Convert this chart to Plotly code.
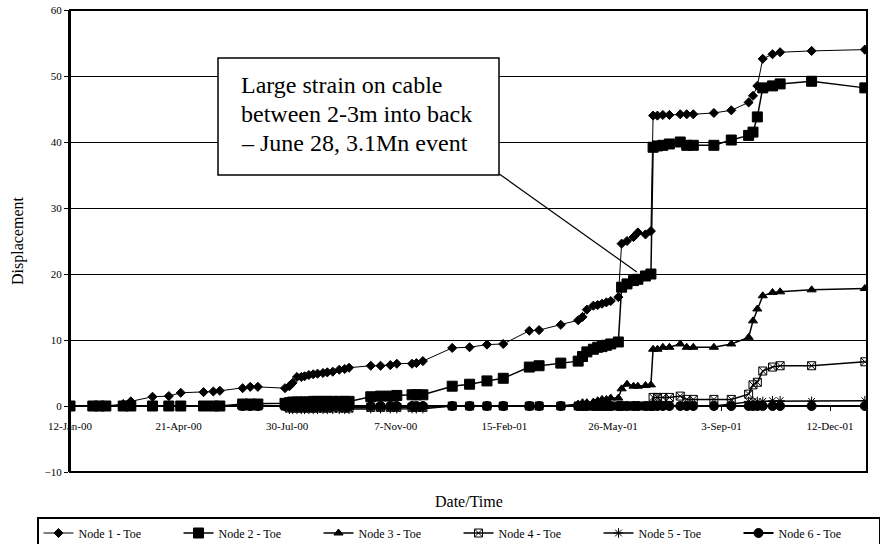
import plotly.graph_objects as go

DATES = [
    "2000-01-12", "2000-02-02", "2000-02-08", "2000-02-14", "2000-03-01", "2000-03-08", "2000-03-28", "2000-04-12", "2000-04-23", "2000-05-14",
    "2000-05-23", "2000-05-29", "2000-06-19", "2000-06-26", "2000-07-03", "2000-07-28", "2000-08-01", "2000-08-04", "2000-08-08", "2000-08-12",
    "2000-08-15", "2000-08-19", "2000-08-23", "2000-08-27", "2000-09-01", "2000-09-05", "2000-09-10", "2000-09-16", "2000-09-21", "2000-09-25",
    "2000-10-15", "2000-10-24", "2000-11-02", "2000-11-08", "2000-11-22", "2000-11-26", "2000-12-02", "2000-12-29", "2001-01-14", "2001-01-30",
    "2001-02-14", "2001-03-10", "2001-03-19", "2001-04-08", "2001-04-24", "2001-04-28", "2001-05-02", "2001-05-08", "2001-05-12", "2001-05-16",
    "2001-05-20", "2001-05-24", "2001-05-31", "2001-06-03", "2001-06-08", "2001-06-14", "2001-06-18", "2001-06-25", "2001-06-30", "2001-07-02",
    "2001-07-06", "2001-07-11", "2001-07-17", "2001-07-27", "2001-08-02", "2001-08-08", "2001-08-27", "2001-09-12", "2001-09-28", "2001-10-02",
    "2001-10-06", "2001-10-11", "2001-10-20", "2001-10-27", "2001-11-25", "2002-01-13",
]

NODE1 = [
    0, 0, 0, 0, 0.3, 0.7, 1.4, 1.5, 2.0, 2.1,
    2.2, 2.3, 2.7, 2.9, 2.9, 2.7, 3.0, 3.5, 4.4, 4.4,
    4.5, 4.7, 4.8, 4.9, 5.0, 5.1, 5.2, 5.5, 5.6, 5.8,
    6.1, 6.1, 6.2, 6.4, 6.4, 6.5, 6.8, 8.8, 8.9, 9.3,
    9.4, 11.4, 11.5, 12.3, 13.0, 13.5, 14.6, 15.2, 15.3, 15.5,
    15.7, 15.9, 16.5, 24.6, 25.0, 25.6, 26.3, 26.0, 26.5, 44.0,
    44.0, 44.1, 44.1, 44.2, 44.2, 44.2, 44.4, 44.8, 46.0, 47.0,
    48.5, 52.6, 53.3, 53.6, 53.8, 54.0,
]
NODE2 = [
    0, 0, 0, 0, 0, 0, 0, 0, 0, 0,
    0, 0, 0.3, 0.3, 0.3, 0.4, 0.5, 0.6, 0.6, 0.6,
    0.6, 0.6, 0.7, 0.7, 0.7, 0.7, 0.7, 0.7, 0.7, 0.7,
    1.4, 1.5, 1.5, 1.6, 1.7, 1.7, 1.7, 3.0, 3.3, 3.8,
    4.2, 5.9, 6.1, 6.5, 6.8, 7.5, 8.2, 8.6, 8.9, 9.0,
    9.2, 9.4, 9.7, 18.0, 18.5, 19.0, 19.2, 19.7, 20.0, 39.2,
    39.4, 39.5, 39.7, 40.0, 39.5, 39.5, 39.5, 40.3, 41.0, 41.5,
    43.8, 48.2, 48.5, 48.8, 49.2, 48.2,
]
NODE3 = [
    0, 0, 0, 0, 0, 0, 0, 0, 0, 0,
    0, 0, 0, 0, 0, 0, 0, 0, 0, 0,
    0, 0, 0, 0, 0, 0, 0, 0, 0, 0,
    0, 0, 0, 0, 0, 0, 0, 0, 0, 0,
    0, 0, 0, 0, 0.3, 0.5, 0.5, 0.6, 0.8, 1.0,
    1.0, 1.2, 1.2, 2.6, 3.3, 3.0, 3.0, 3.1, 3.2, 8.6,
    8.6, 8.9, 8.9, 9.4, 8.9, 8.9, 8.9, 9.4, 10.4, 12.9,
    14.7, 16.7, 17.2, 17.3, 17.6, 17.8,
]
NODE4 = [
    0, 0, 0, 0, 0, 0, 0, 0, 0, 0,
    0, 0, 0, 0, 0, 0, -0.3, -0.3, -0.3, -0.3,
    -0.3, -0.3, -0.3, -0.3, -0.3, -0.3, -0.3, -0.3, -0.3, -0.3,
    -0.2, -0.2, -0.2, -0.2, -0.2, -0.2, -0.2, 0, 0, 0,
    0, 0, 0, 0, 0, 0, 0, 0, 0, 0,
    0, 0, 0, 0, 0, 0, 0, 0, 0, 1.3,
    1.3, 1.3, 1.3, 1.5, 1.0, 1.0, 1.0, 1.0, 1.8, 3.2,
    3.6, 5.3, 5.9, 6.1, 6.1, 6.7,
]
NODE5 = [
    0, 0, 0, 0, 0, 0, 0, 0, 0, 0,
    0, 0, 0, 0, 0, 0, -0.5, -0.5, -0.5, -0.5,
    -0.5, -0.5, -0.5, -0.5, -0.5, -0.5, -0.5, -0.5, -0.5, -0.5,
    -0.4, -0.4, -0.4, -0.4, -0.4, -0.4, -0.4, 0, 0, 0,
    0, 0, 0, 0, 0, 0, 0, 0, 0, 0,
    0, 0, 0, 0, 0, 0, 0, 0, 0, 0,
    0, 0, 0, 0, 0, 0, 0, 0.3, 0.7, 0.7,
    0.7, 0.7, 0.8, 0.8, 0.7, 0.8,
]
NODE6 = [
    0, 0, 0, 0, 0, 0, 0, 0, 0, 0,
    0, 0, 0, 0, 0, 0, 0, 0, 0, 0,
    0, 0, 0, 0, 0, 0, 0, 0, 0, 0,
    0, 0, 0, 0, 0, 0, 0, 0, 0, 0,
    0, 0, 0, 0, 0, 0, 0, 0, 0, 0,
    0, 0, 0, 0, 0, 0, 0, 0, 0, 0,
    0, 0, 0, 0, 0, 0, 0, 0, 0, 0,
    0, 0, 0, 0, 0, 0,
]

SERIES_NAMES = ["Node 1 - Toe", "Node 2 - Toe", "Node 3 - Toe", "Node 4 - Toe", "Node 5 - Toe", "Node 6 - Toe"]
SERIES_VALUES = [NODE1, NODE2, NODE3, NODE4, NODE5, NODE6]
SYMBOLS = ["diamond", "square", "triangle-up", "square-x-open", "asterisk-open", "circle"]
SIZES = [7, 10, 8, 8, 8, 9]
WIDTHS = [1, 1.5, 1.5, 1.5, 1.5, 2]

ANNOT_LINES = ["Large strain on cable", "between 2-3m into back", "– June 28, 3.1Mn event"]
ARROW_TAIL = ("2001-02-10", 35.2)
ARROW_TIP = ("2001-06-17", 20.3)

FONT = "Liberation Serif"

fig = go.Figure()
for name, vals, sym, sz, w in zip(SERIES_NAMES, SERIES_VALUES, SYMBOLS, SIZES, WIDTHS):
    fig.add_trace(go.Scatter(
        x=DATES, y=vals, name=name, mode="lines+markers",
        line=dict(color="black", width=w),
        marker=dict(symbol=sym, size=sz, color="black", line=dict(color="black", width=1)),
    ))

W, H = 880, 544
# plot area in pixels: x 70..867, y 10..472
L, R, T, B = 70, 867, 10, 472
PW, PH = R - L, B - T

fig.update_layout(
    width=W, height=H,
    margin=dict(l=L, r=W - R, t=T, b=H - B, pad=0, autoexpand=False),
    paper_bgcolor="white", plot_bgcolor="white",
    font=dict(family=FONT, color="black", size=11),
    showlegend=True,
    legend=dict(
        orientation="h", x=(37 - L) / PW, xanchor="left", y=-(517 - B) / PH, yanchor="top",
        bordercolor="black", borderwidth=1.5, bgcolor="white",
        font=dict(family=FONT, size=12), entrywidth=95, entrywidthmode="pixels",
        tracegroupgap=0, itemwidth=30,
    ),
    xaxis=dict(
        type="date", range=["2000-01-12", "2002-01-15"],
        tick0="2000-01-12", dtick=100 * 86400000, tickformat="%-d-%b-%y",
        anchor="free", position=10 / 70,
        showgrid=False, zeroline=False,
        showline=True, linecolor="black", linewidth=1.5,
        ticks="outside", ticklen=4, tickcolor="black", ticklabelstandoff=6,
        tickfont=dict(family=FONT, size=11),
    ),
    yaxis=dict(
        range=[-10, 60], dtick=10, showgrid=True, gridcolor="black", gridwidth=1,
        zeroline=False, showline=True, linecolor="black", linewidth=2,
        ticks="outside", ticklen=4, tickcolor="black",
        tickfont=dict(family=FONT, size=11),
    ),
)

# frame of the plot area
fig.add_shape(type="rect", xref="paper", yref="paper", x0=0, x1=1, y0=0, y1=1,
              line=dict(color="black", width=2), layer="above")

# callout box
bx0, bx1, by0, by1 = 218, 499, 58, 175
fig.add_shape(type="rect", xref="paper", yref="paper",
              x0=(bx0 - L) / PW, x1=(bx1 - L) / PW, y0=(B - by1) / PH, y1=(B - by0) / PH,
              line=dict(color="black", width=1.5), fillcolor="white", layer="above")
fig.add_shape(type="line", xref="x", yref="y",
              x0=ARROW_TAIL[0], y0=ARROW_TAIL[1], x1=ARROW_TIP[0], y1=ARROW_TIP[1],
              line=dict(color="black", width=1.2), layer="above")

for i, line_text in enumerate(ANNOT_LINES):
    fig.add_annotation(xref="paper", yref="paper", x=(239 - L) / PW, y=(B - (85 + 29 * i)) / PH,
                       xanchor="left", yanchor="middle", text=line_text, showarrow=False,
                       font=dict(family=FONT, size=24, color="black"))

fig.add_annotation(xref="paper", yref="paper", x=0.5, y=-(501 - B) / PH, text="Date/Time",
                   showarrow=False, xanchor="center", yanchor="middle",
                   font=dict(family=FONT, size=16, color="black"))
fig.add_annotation(xref="paper", yref="paper", x=(18 - L) / PW, y=0.5, text="Displacement",
                   showarrow=False, textangle=-90, xanchor="center", yanchor="middle",
                   font=dict(family=FONT, size=16, color="black"))

fig.write_html("out.html", config={"displayModeBar": False},
               post_script="document.body.style.margin='0';")
